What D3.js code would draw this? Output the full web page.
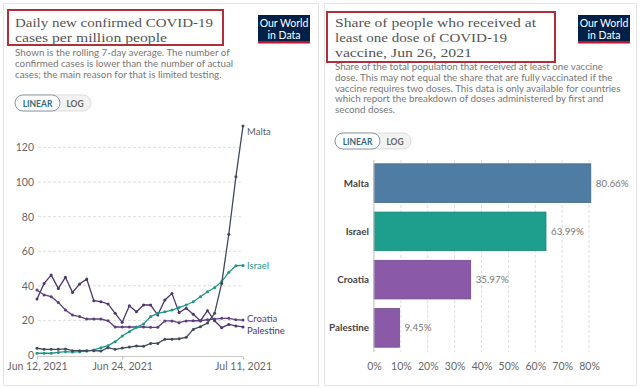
<!DOCTYPE html>
<html lang="en">
<head>
  <meta charset="UTF-8">
  <title>COVID-19 cases and vaccinations</title>
  <style>
    body { margin: 0; background: #fff; }
    svg { display: block; }
    text { font-family: Lato, "Open Sans", sans-serif; }
    .title { font-family: "Liberation Serif", "DejaVu Serif", serif; fill: #555; }
  </style>
</head>
<body>
  <svg width="640" height="388"></svg>

  <script src="https://d3js.org/d3.v7.min.js"></script>
  <script>
    // --- left chart data: daily new cases per million (7-day avg), Jun 12 .. Jul 11, 2021
    const startDay = new Date(2021, 5, 12);
    const endDay = new Date(2021, 6, 12);
    const countries = ["Malta", "Israel", "Croatia", "Palestine"];
    const malta = [3.9, 3.3, 3.3, 3.3, 3.5, 2.5, 2.5, 2.5, 2.5, 2.3, 4.2, 3.3, 4.0, 4.6, 5.2,
                   5.0, 6.7, 6.7, 9.1, 9.1, 9.4, 10.2, 14.8, 16.4, 18.5, 24.1, 41.4, 69.8, 103, 132.4];
    const israel = [1.0, 1.0, 1.0, 1.5, 1.9, 1.7, 1.9, 2.3, 2.9, 4.2, 5.4, 7.7, 11.0, 13.5, 16.0,
                    17.9, 22.2, 24.1, 25.0, 26.0, 27.4, 28.9, 30.8, 33.7, 36.6, 38.9, 42.4, 47.8, 51.6, 51.8];
    const croatia = [37.6, 34.7, 33.7, 30.4, 26.0, 23.1, 22.2, 20.8, 20.8, 20.8, 19.8, 16.2, 16.2, 16.2, 16.2,
                     16.2, 16.0, 16.0, 19.7, 19.7, 18.7, 19.7, 19.8, 19.8, 20.4, 20.8, 21.2, 21.2, 20.4, 20.2];
    const palestine = [32.4, 41.4, 46.2, 38.5, 44.9, 36.2, 41.0, 43.9, 31.4, 30.8, 29.5, 24.1, 18.9, 28.5, 25.0,
                       28.9, 28.9, 23.1, 31.8, 35.5, 24.5, 27.0, 23.5, 19.7, 25.6, 19.8, 15.8, 17.7, 16.8, 16.2];
    const yTicks = [0, 20, 40, 60, 80, 100, 120];
    const xTickDates = [new Date(2021, 5, 12), new Date(2021, 5, 24), new Date(2021, 6, 11)];
    const xTickLabels = ["Jun 12, 2021", "Jun 24, 2021", "Jul 11, 2021"];

    // --- right chart data: share with at least one dose, Jun 26, 2021
    const barCountries = ["Malta", "Israel", "Croatia", "Palestine"];
    const barValues = [80.66, 63.99, 35.97, 9.45];
    const pctTicks = [0, 10, 20, 30, 40, 50, 60, 70, 80];

    const lineColors = { Malta: "#3d4b5c", Israel: "#1f9683", Croatia: "#5c3e7e", Palestine: "#4e3470" };
    const labelColors = { Malta: "#56606b", Israel: "#1f9683", Croatia: "#5c3e7e", Palestine: "#4e3470" };
    const barColors = ["#4f7ca2", "#1e9e8d", "#8a5aa8", "#8a5aa8"];
    const barStroke = ["#3f6688", "#178474", "#6f4790", "#6f4790"];

    const svg = d3.select("svg");

    // panels
    svg.append("rect").attr("x", 3.5).attr("y", 3.5).attr("width", 315).attr("height", 382)
      .attr("fill", "#fff").attr("stroke", "#e4e4e4");
    svg.append("rect").attr("x", 324.5).attr("y", 3.5).attr("width", 312).attr("height", 382)
      .attr("fill", "#fff").attr("stroke", "#e4e4e4");

    // titles: [text, width in px]
    function header(x0, titleLines, box, subLines, logoX, subY, toggleY) {
      svg.append("rect").attr("x", box[0]).attr("y", box[1]).attr("width", box[2]).attr("height", box[3])
        .attr("fill", "none").attr("stroke", "#b0303a").attr("stroke-width", 2);
      titleLines.forEach(([t, w], i) => {
        svg.append("text").attr("class", "title").attr("x", x0).attr("y", 27 + i * 15)
          .attr("font-size", 13).attr("textLength", w).attr("lengthAdjust", "spacingAndGlyphs").text(t);
      });
      subLines.forEach((t, i) => {
        svg.append("text").attr("x", x0).attr("y", subY + i * 10.8)
          .attr("font-size", 9.8).attr("fill", "#777").text(t);
      });
      // logo
      svg.append("rect").attr("x", logoX).attr("y", 15).attr("width", 52).attr("height", 28).attr("fill", "#002147");
      svg.append("rect").attr("x", logoX).attr("y", 41).attr("width", 52).attr("height", 2.5).attr("fill", "#c8102e");
      svg.append("text").attr("x", logoX + 26).attr("y", 27).attr("text-anchor", "middle")
        .attr("font-size", 10.5).attr("fill", "#fff").text("Our World");
      svg.append("text").attr("x", logoX + 26).attr("y", 38.5).attr("text-anchor", "middle")
        .attr("font-size", 10.5).attr("fill", "#fff").text("in Data");
      // linear / log toggle
      const tg = svg.append("g").attr("transform", `translate(${x0},${toggleY})`);
      tg.append("rect").attr("x", 0).attr("y", 0).attr("width", 76).attr("height", 16).attr("rx", 8)
        .attr("fill", "#f2f2f2").attr("stroke", "#ddd");
      tg.append("rect").attr("x", 0).attr("y", 0).attr("width", 45).attr("height", 16).attr("rx", 8)
        .attr("fill", "#fff").attr("stroke", "#8a9aa5");
      tg.append("text").attr("x", 22.5).attr("y", 11.5).attr("text-anchor", "middle").attr("font-size", 8.5)
        .attr("font-weight", "bold").attr("fill", "#2f6a80").text("LINEAR");
      tg.append("text").attr("x", 60).attr("y", 11.5).attr("text-anchor", "middle").attr("font-size", 8.5)
        .attr("font-weight", "bold").attr("fill", "#666").text("LOG");
    }

    header(15, [["Daily new confirmed COVID-19", 198], ["cases per million people", 152]],
      [8, 10, 215, 35],
      ["Shown is the rolling 7-day average. The number of",
       "confirmed cases is lower than the number of actual",
       "cases; the main reason for that is limited testing."],
      258, 56, 95);

    header(335, [["Share of people who received at", 201], ["least one dose of COVID-19", 172],
                 ["vaccine, Jun 26, 2021", 137]],
      [327, 12, 228, 50],
      ["Share of the total population that received at least one vaccine",
       "dose. This may not equal the share that are fully vaccinated if the",
       "vaccine requires two doses. This data is only available for countries",
       "which report the breakdown of doses administered by first and",
       "second doses."],
      578, 70, 133);

    // ---- line chart
    const dates = d3.timeDay.range(startDay, endDay);
    const series = { Malta: malta, Israel: israel, Croatia: croatia, Palestine: palestine };
    const x = d3.scaleTime().domain([dates[0], dates[dates.length - 1]]).range([37, 243]);
    const y = d3.scaleLinear().domain([0, d3.max(malta)]).range([355, 126]);

    const gl = svg.append("g");
    gl.selectAll(".grid").data(yTicks.slice(1)).join("line")
      .attr("x1", 38).attr("x2", 242).attr("y1", d => y(d)).attr("y2", d => y(d))
      .attr("stroke", "#ddd").attr("stroke-dasharray", "3 2");

    const yAxis = gl.append("g").attr("transform", "translate(34,0)")
      .call(d3.axisLeft(y).tickValues(yTicks).tickSize(0).tickPadding(0));
    yAxis.select(".domain").remove();
    yAxis.selectAll("text").attr("font-size", 10.5).attr("fill", "#666").attr("font-family", "Lato");

    const xAxis = gl.append("g").attr("transform", "translate(0,356.5)")
      .call(d3.axisBottom(x).tickValues(xTickDates).tickFormat((d, i) => xTickLabels[i]).tickSize(3).tickPadding(3));
    xAxis.select(".domain").attr("stroke", "#ccc").attr("d", "M37,0H243");
    xAxis.selectAll(".tick line").attr("stroke", "#bbb");
    xAxis.selectAll("text").attr("font-size", 10.5).attr("fill", "#666").attr("font-family", "Lato");

    const line = d3.line().x((d, i) => x(dates[i])).y(d => y(d));
    countries.slice().reverse().forEach(c => {
      gl.append("path").datum(series[c]).attr("fill", "none").attr("stroke", lineColors[c])
        .attr("stroke-width", 1.3).attr("d", line);
      gl.selectAll(null).data(series[c]).join("circle")
        .attr("cx", (d, i) => x(dates[i])).attr("cy", d => y(d)).attr("r", 1.5)
        .attr("fill", lineColors[c]);
    });

    const labelOffsets = { Malta: 5, Israel: 0, Croatia: -2, Palestine: 4 };
    countries.forEach(c => {
      const v = series[c][series[c].length - 1];
      gl.append("text").attr("x", x(dates[dates.length - 1]) + 4).attr("y", y(v) + labelOffsets[c] + 3.5)
        .attr("font-size", 9.5).attr("fill", labelColors[c]).text(c);
    });

    // ---- bar chart
    const bx = d3.scaleLinear().domain([0, 80]).range([374, 589]);
    const by = d3.scaleBand().domain(barCountries).range([159, 352]).paddingInner(0.2).paddingOuter(0.1);
    const gb = svg.append("g");

    gb.selectAll(".vgrid").data(pctTicks.slice(1)).join("line")
      .attr("x1", d => bx(d)).attr("x2", d => bx(d)).attr("y1", 160).attr("y2", 352)
      .attr("stroke", "#ddd").attr("stroke-dasharray", "3 2");

    const bAxis = gb.append("g").attr("transform", "translate(0,360)")
      .call(d3.axisBottom(bx).tickValues(pctTicks).tickFormat(d => d + "%").tickSize(0).tickPadding(3));
    bAxis.select(".domain").remove();
    bAxis.selectAll("text").attr("font-size", 10.5).attr("fill", "#666").attr("font-family", "Lato");

    gb.selectAll(".bar").data(barValues).join("rect")
      .attr("x", bx(0)).attr("y", (d, i) => by(barCountries[i]))
      .attr("width", d => bx(d) - bx(0)).attr("height", by.bandwidth())
      .attr("fill", (d, i) => barColors[i]).attr("stroke", (d, i) => barStroke[i]).attr("stroke-width", 0.8);

    gb.append("line").attr("x1", bx(0)).attr("x2", bx(0)).attr("y1", 160).attr("y2", 352)
      .attr("stroke", "#bbb");

    gb.selectAll(".cat").data(barCountries).join("text")
      .attr("x", 369).attr("y", d => by(d) + by.bandwidth() / 2 + 3.5).attr("text-anchor", "end")
      .attr("font-size", 9.8).attr("font-weight", "bold").attr("fill", "#444").text(d => d);

    gb.selectAll(".val").data(barValues).join("text")
      .attr("x", d => bx(d) + 5).attr("y", (d, i) => by(barCountries[i]) + by.bandwidth() / 2 + 3.5)
      .attr("font-size", 9.8).attr("fill", "#777").text(d => d.toFixed(2) + "%");
  </script>
</body>
</html>
